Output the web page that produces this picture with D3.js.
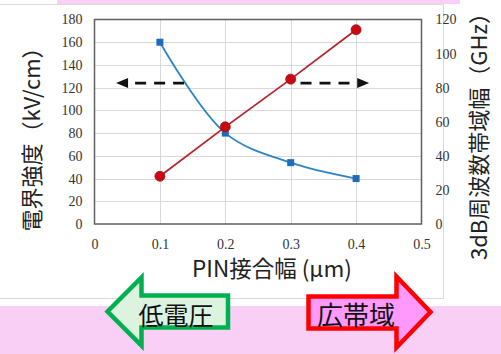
<!DOCTYPE html>
<html>
<head>
<meta charset="utf-8">
<script src="https://cdn.jsdelivr.net/npm/d3@7"></script>
<style>
  html, body { margin: 0; padding: 0; background: #fff; }
  svg { display: block; }
</style>
</head>
<body>
<svg id="chart" width="501" height="354"></svg>
<script>
// PIN junction width (μm)
const widths = [0.1, 0.2, 0.3, 0.4];
// Electric field strength (kV/cm), left axis
const fieldStrength = [160, 80, 54, 40];
// 3dB frequency bandwidth (GHz), right axis
const bandwidth = [28, 57, 85, 114];

const xTicks = [0, 0.1, 0.2, 0.3, 0.4, 0.5];
const leftTicks = [0, 20, 40, 60, 80, 100, 120, 140, 160, 180];
const rightTicks = [0, 20, 40, 60, 80, 100, 120];

const xTitle = "PIN接合幅 (μm)";
const leftTitle = "電界強度（kV/cm）";
const rightTitle = "3dB周波数帯域幅（GHz）";
const lowVoltageLabel = "低電圧";
const wideBandLabel = "広帯域";

const svg = d3.select("#chart");

// page background: pink band at top and bottom, white chart panel
svg.append("rect").attr("x", 0).attr("y", 0).attr("width", 501).attr("height", 354).attr("fill", "#fff");
svg.append("rect").attr("x", 0).attr("y", 306).attr("width", 501).attr("height", 48).attr("fill", "#f9cff6");
svg.append("rect").attr("x", 57).attr("y", 0).attr("width", 403).attr("height", 4).attr("fill", "#f9cff6");
svg.append("path")
  .attr("d", "M-1,4.5 H443.5 V298.5 H-1")
  .attr("fill", "none").attr("stroke", "#dadada").attr("stroke-width", 1);

const plot = { left: 94.5, right: 421.5, top: 19.5, bottom: 224 };

const x = d3.scaleLinear().domain([0, 0.5]).range([plot.left, plot.right]);
const yL = d3.scaleLinear().domain([0, 180]).range([plot.bottom, plot.top]);
const yR = d3.scaleLinear().domain([0, 120]).range([plot.bottom, plot.top]);

// gridlines
const grid = svg.append("g").attr("stroke", "#d9d9d9").attr("stroke-width", 1);
grid.selectAll("line.h").data(leftTicks.slice(1, -1)).join("line")
  .attr("x1", plot.left).attr("x2", plot.right)
  .attr("y1", d => Math.round(yL(d)) + 0.5).attr("y2", d => Math.round(yL(d)) + 0.5);
grid.selectAll("line.v").data(xTicks.slice(1, -1)).join("line")
  .attr("y1", plot.top).attr("y2", plot.bottom)
  .attr("x1", d => Math.round(x(d)) + 0.5).attr("x2", d => Math.round(x(d)) + 0.5);

// plot frame
svg.append("rect")
  .attr("x", plot.left).attr("y", plot.top)
  .attr("width", plot.right - plot.left).attr("height", plot.bottom - plot.top)
  .attr("fill", "none").attr("stroke", "#5f5f5f").attr("stroke-width", 1.5);

// axes
const tickFont = "'Liberation Serif', 'Times New Roman', serif";
function styleAxis(g) {
  g.select(".domain").remove();
  g.selectAll("text").attr("font-family", tickFont).attr("font-size", 14).attr("fill", "#333");
}
svg.append("g").attr("transform", `translate(${plot.left},0)`)
  .call(d3.axisLeft(yL).tickValues(leftTicks).tickSize(0).tickPadding(12))
  .call(styleAxis);
svg.append("g").attr("transform", `translate(${plot.right},0)`)
  .call(d3.axisRight(yR).tickValues(rightTicks).tickSize(0).tickPadding(14))
  .call(styleAxis);
svg.append("g").attr("transform", `translate(0,${plot.bottom})`)
  .call(d3.axisBottom(x).tickValues(xTicks).tickSize(0).tickPadding(15).tickFormat(d3.format("")))
  .call(styleAxis);

// axis titles
const cjkFont = "'Noto Sans CJK JP', 'Noto Sans', sans-serif";
svg.append("text")
  .attr("transform", "translate(40,134) rotate(-90)")
  .attr("text-anchor", "middle")
  .attr("font-family", cjkFont).attr("font-size", 22).attr("fill", "#222")
  .text(leftTitle);
svg.append("text")
  .attr("transform", "translate(487,260) rotate(-90)")
  .attr("text-anchor", "start")
  .attr("font-family", cjkFont).attr("font-size", 22).attr("fill", "#222")
  .text(rightTitle);
svg.append("text")
  .attr("x", 272).attr("y", 277)
  .attr("text-anchor", "middle")
  .attr("font-family", cjkFont).attr("font-size", 22.5).attr("fill", "#222")
  .text(xTitle);

// series: field strength (smoothed, squares) and bandwidth (straight, circles)
const fieldPts = widths.map((w, i) => [w, fieldStrength[i]]);
const bandPts = widths.map((w, i) => [w, bandwidth[i]]);

svg.append("path")
  .attr("d", d3.line().x(d => x(d[0])).y(d => yL(d[1])).curve(d3.curveCatmullRom.alpha(0.5))(fieldPts))
  .attr("fill", "none").attr("stroke", "#2f84c6").attr("stroke-width", 1.8);
svg.append("path")
  .attr("d", d3.line().x(d => x(d[0])).y(d => yR(d[1]))(bandPts))
  .attr("fill", "none").attr("stroke", "#b5242c").attr("stroke-width", 1.8);

svg.selectAll("rect.sq").data(fieldPts).join("rect")
  .attr("x", d => x(d[0]) - 3.5).attr("y", d => yL(d[1]) - 3.5)
  .attr("width", 7).attr("height", 7)
  .attr("fill", "#1f6db8");
svg.selectAll("circle.dot").data(bandPts).join("circle")
  .attr("cx", d => x(d[0])).attr("cy", d => yR(d[1])).attr("r", 5)
  .attr("fill", "#c80a10").attr("stroke", "#a0141a").attr("stroke-width", 0.8);

// dashed direction arrows (axis pointers)
function dashedArrow(x0, x1, yv) {
  const dir = Math.sign(x1 - x0);
  const head = 12;
  svg.append("line")
    .attr("x1", x0).attr("x2", x1 - dir * head)
    .attr("y1", yv).attr("y2", yv)
    .attr("stroke", "#111").attr("stroke-width", 2.6)
    .attr("stroke-dasharray", "11,8");
  svg.append("path")
    .attr("d", `M${x1},${yv} L${x1 - dir * head},${yv - 5} L${x1 - dir * head},${yv + 5} Z`)
    .attr("fill", "#111");
}
dashedArrow(x(0.137), x(0.033), yL(124));
dashedArrow(x(0.315), x(0.42), yL(124));

// block arrows along the bottom
svg.append("path")
  .attr("d", "M107.5,311.5 L141.5,277.5 L141.5,295.5 L228,295.5 L228,327.5 L141.5,327.5 L141.5,345.5 Z")
  .attr("fill", "#dcf3e0").attr("stroke", "#00b050").attr("stroke-width", 4.5).attr("stroke-linejoin", "miter");
svg.append("text")
  .attr("x", 176).attr("y", 325)
  .attr("text-anchor", "middle")
  .attr("font-family", cjkFont).attr("font-size", 25).attr("fill", "#111")
  .text(lowVoltageLabel);

svg.append("path")
  .attr("d", "M430.5,312 L396.5,276.5 L396.5,296.5 L308.5,296.5 L308.5,328.5 L396.5,328.5 L396.5,347.5 Z")
  .attr("fill", "#ff99fb").attr("stroke", "#ff0000").attr("stroke-width", 4.5).attr("stroke-linejoin", "miter");
svg.append("text")
  .attr("x", 356).attr("y", 325)
  .attr("text-anchor", "middle")
  .attr("font-family", cjkFont).attr("font-size", 26).attr("fill", "#111")
  .text(wideBandLabel);
</script>
</body>
</html>
